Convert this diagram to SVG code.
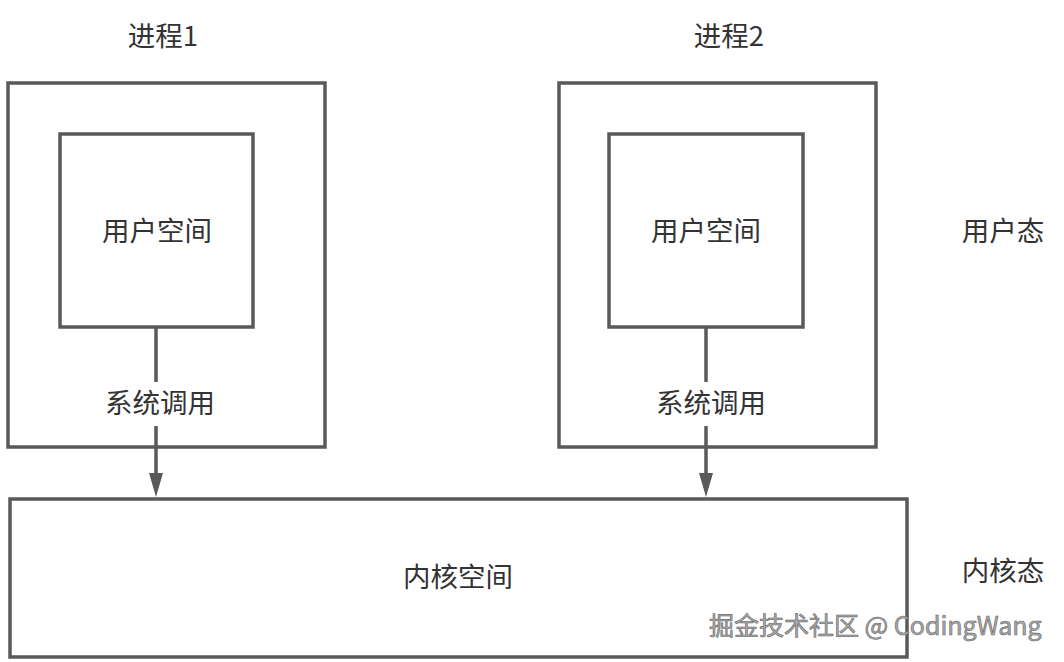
<svg xmlns="http://www.w3.org/2000/svg" width="1064" height="662" viewBox="0 0 1064 662">
<defs>
<style>
.box{fill:#fff;stroke:#595959;stroke-width:3.5}
.t{font-family:"Noto Sans CJK SC","Liberation Sans",sans-serif;font-size:27.5px;fill:#333;text-anchor:middle;dominant-baseline:central}
.edge{stroke:#595959;stroke-width:3.5;fill:none}
.wm{font-family:"Noto Sans CJK SC","Liberation Sans",sans-serif;font-size:25px;fill:#aaa;stroke:#666;stroke-width:0.6}
</style>
</defs>
<rect width="1064" height="662" fill="#fff"/>
<g id="process1">
<rect class="box" x="8" y="83" width="317" height="364"/>
<text class="t" x="163" y="34">进程1</text>
</g>
<g id="process2">
<rect class="box" x="559" y="83" width="317" height="364"/>
<text class="t" x="729" y="34">进程2</text>
</g>
<g id="user1">
<rect class="box" x="60" y="134" width="193" height="193"/>
<text class="t" x="157" y="229">用户空间</text>
</g>
<g id="user2">
<rect class="box" x="609" y="134" width="194" height="193"/>
<text class="t" x="706" y="229">用户空间</text>
</g>
<g id="kernel">
<rect class="box" x="10" y="499" width="897" height="158"/>
<text class="t" x="458" y="575">内核空间</text>
</g>
<g id="labels">
<text class="t" x="1003" y="229">用户态</text>
<text class="t" x="1003" y="569">内核态</text>
</g>
<g id="connectors">
<path class="edge" d="M156,327 V382"/>
<path class="edge" d="M156,426 V473"/>
<path d="M149,473 L163,473 L156,497 Z" fill="#595959"/>
<text class="t" x="160" y="401">系统调用</text>
<path class="edge" d="M706,327 V382"/>
<path class="edge" d="M706,426 V473"/>
<path d="M699,473 L713,473 L706,497 Z" fill="#595959"/>
<text class="t" x="711" y="401">系统调用</text>
</g>
<text class="wm" x="709" y="635">掘金技术社区 @ CodingWang</text>
</svg>
